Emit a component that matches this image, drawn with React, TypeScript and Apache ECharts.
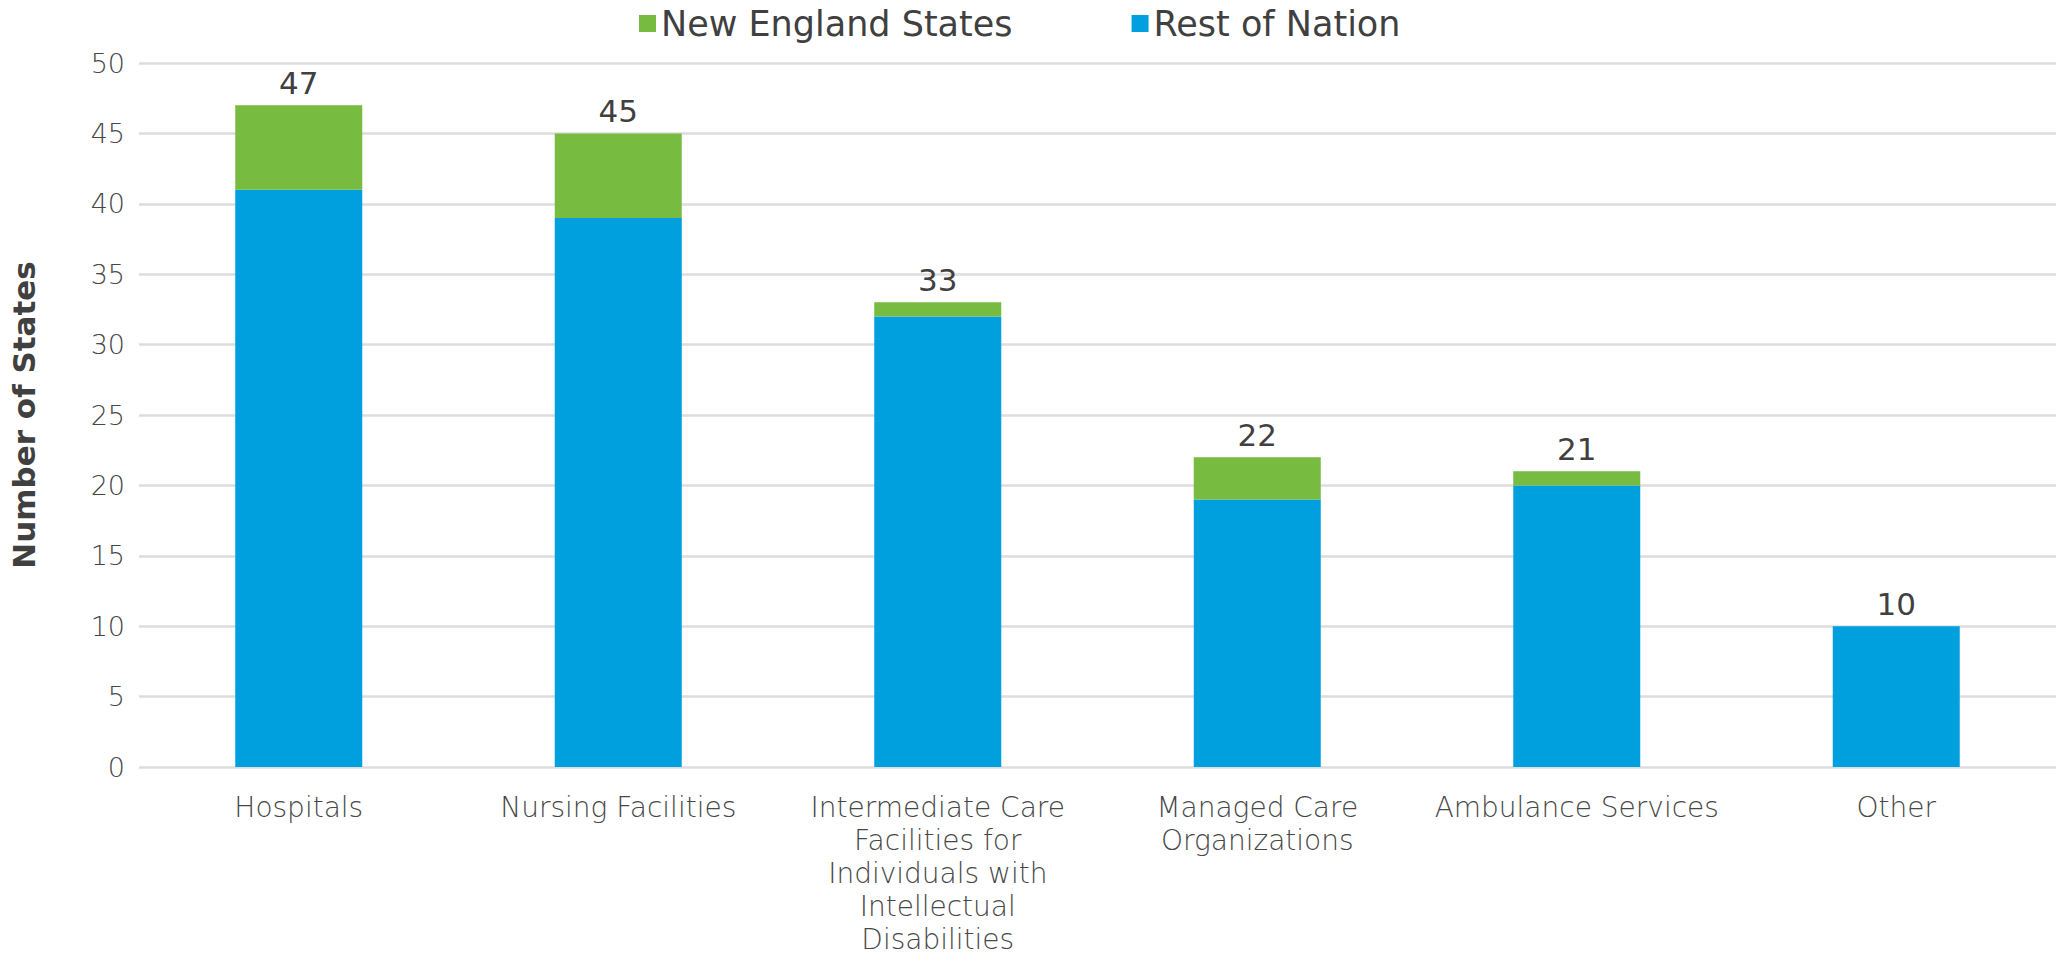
import React, { useEffect, useRef } from "react";
import * as echarts from "echarts";

const categories = [
  "Hospitals",
  "Nursing Facilities",
  "Intermediate Care\nFacilities for\nIndividuals with\nIntellectual\nDisabilities",
  "Managed Care\nOrganizations",
  "Ambulance Services",
  "Other",
];
const restOfNation = [41, 39, 32, 19, 20, 10];
const newEngland = [6, 6, 1, 3, 1, 0];
const totals = [47, 45, 33, 22, 21, 10];
const yTicks = { min: 0, max: 50, interval: 5 };

const FONT = "DejaVu Sans";

export default function App() {
  const ref = useRef<HTMLDivElement>(null);
  useEffect(() => {
    if (!ref.current) return;
    const chart = echarts.init(ref.current, null, { renderer: "svg" });
    chart.setOption({
      animation: false,
      textStyle: { fontFamily: FONT },
      legend: {
        data: ["New England States", "Rest of Nation"],
        top: 1,
        left: 634,
        itemWidth: 17,
        itemHeight: 17,
        itemGap: 119,
        icon: "rect",
        textStyle: { fontSize: 35, color: "#404040", fontFamily: FONT },
      },
      grid: { left: 137, right: -6, top: 63, bottom: 197, containLabel: false },
      xAxis: {
        type: "category",
        data: categories,
        axisLine: { show: false },
        axisTick: { show: false },
        axisLabel: {
          interval: 0,
          color: "#474747",
          fontSize: 28,
          lineHeight: 33,
          margin: 24,
          fontFamily: FONT,
          fontWeight: 300,
        },
      },
      yAxis: {
        type: "value",
        min: yTicks.min,
        max: yTicks.max,
        interval: yTicks.interval,
        name: "Number of States",
        nameLocation: "middle",
        nameGap: 100,
        nameTextStyle: { fontSize: 31, color: "#404040", fontFamily: FONT, fontWeight: "bold" },
        axisLine: { show: false },
        axisTick: { show: false },
        axisLabel: { color: "#474747", fontSize: 27, margin: 14, fontFamily: FONT, fontWeight: 300 },
        splitLine: { lineStyle: { color: "#DDDDDD", width: 2.5 } },
      },
      series: [
        {
          name: "Rest of Nation",
          type: "bar",
          stack: "total",
          data: restOfNation,
          barWidth: 127,
          itemStyle: { color: "#00A0DF" },
        },
        {
          name: "New England States",
          type: "bar",
          stack: "total",
          data: newEngland,
          barWidth: 127,
          itemStyle: { color: "#77BB41" },
          label: {
            show: true,
            position: "top",
            distance: 7,
            formatter: (p: any) => String(totals[p.dataIndex]),
            fontSize: 31,
            color: "#404040",
            fontFamily: FONT,
          },
        },
      ],
    });
    return () => chart.dispose();
  }, []);
  return (
    <div
      ref={ref}
      style={{ position: "fixed", left: 0, top: 0, width: 2056, height: 964, background: "#fff" }}
    />
  );
}
